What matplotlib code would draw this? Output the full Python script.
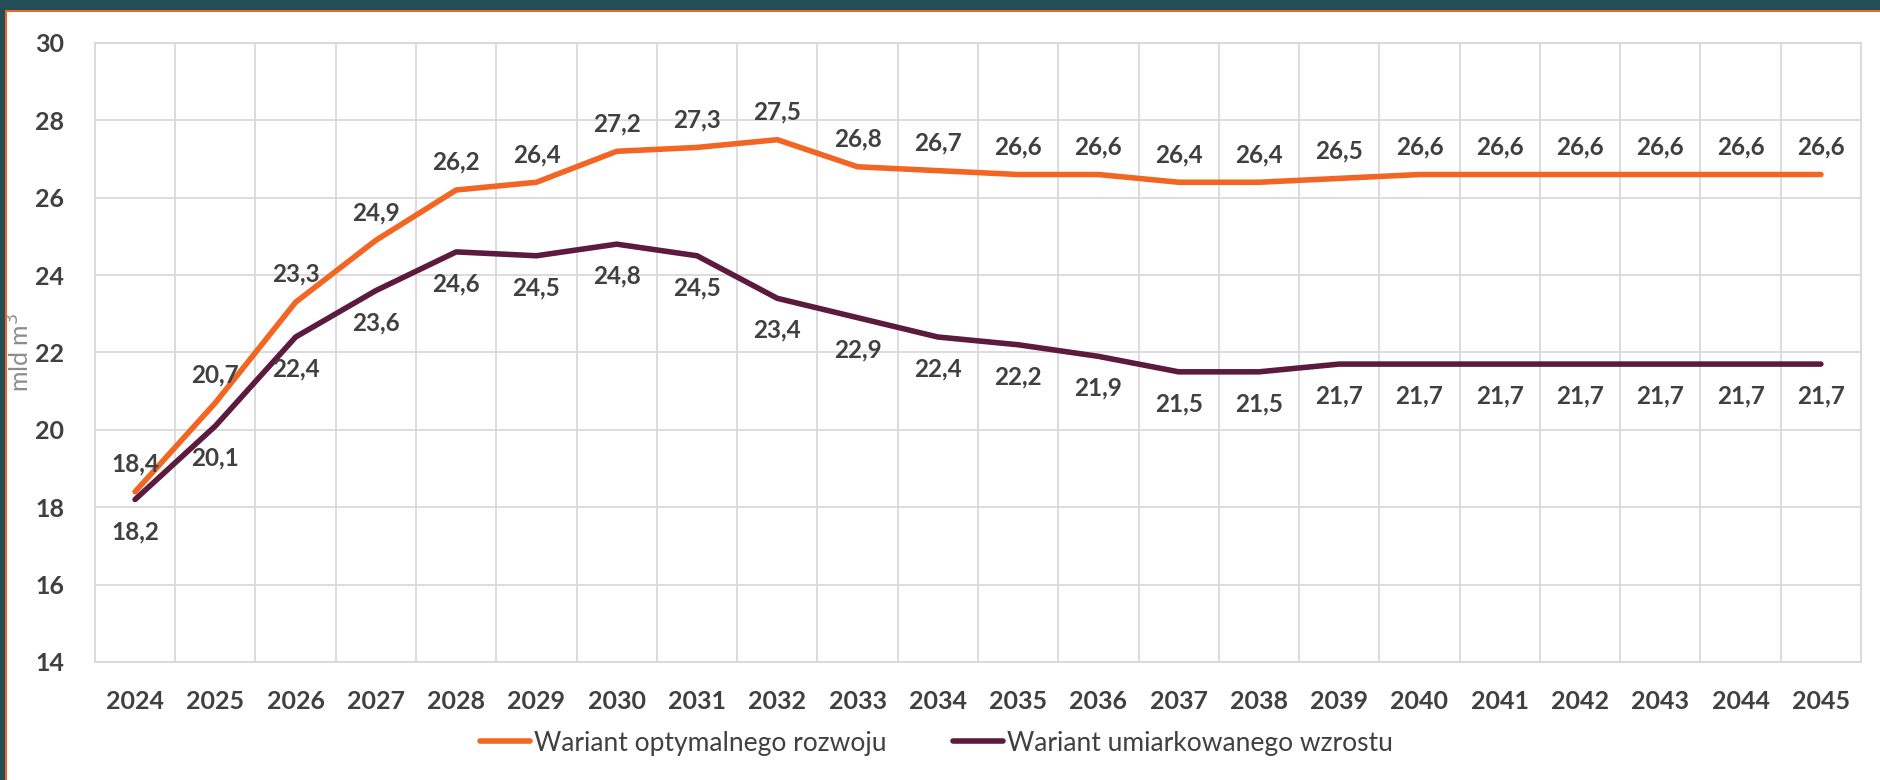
import matplotlib
matplotlib.use("Agg")
import matplotlib.pyplot as plt
from matplotlib.patches import Rectangle

plt.rcParams["font.family"] = ["Lato", "DejaVu Sans"]

years = [str(y) for y in range(2024, 2046)]
optimal = [18.4, 20.7, 23.3, 24.9, 26.2, 26.4, 27.2, 27.3, 27.5, 26.8, 26.7,
           26.6, 26.6, 26.4, 26.4, 26.5, 26.6, 26.6, 26.6, 26.6, 26.6, 26.6]
moderate = [18.2, 20.1, 22.4, 23.6, 24.6, 24.5, 24.8, 24.5, 23.4, 22.9, 22.4,
            22.2, 21.9, 21.5, 21.5, 21.7, 21.7, 21.7, 21.7, 21.7, 21.7, 21.7]
series_names = ["Wariant optymalnego rozwoju", "Wariant umiarkowanego wzrostu"]
y_ticks = [14, 16, 18, 20, 22, 24, 26, 28, 30]

ORANGE = "#F26522"
PLUM = "#5B1A3E"
TEAL = "#234D57"
GRID = "#D9D9D9"
TEXT = "#404040"


def fmt(v):
    return f"{v:.1f}".replace(".", ",")


fig = plt.figure(figsize=(18.8, 7.8), dpi=100)
ax = fig.add_axes([0.0505, 0.1513, 0.9394, 0.7936])

x = list(range(len(years)))
ax.plot(x, optimal, color=ORANGE, lw=4, solid_capstyle="round",
        solid_joinstyle="round", label=series_names[0], zorder=3)
ax.plot(x, moderate, color=PLUM, lw=4, solid_capstyle="round",
        solid_joinstyle="round", label=series_names[1], zorder=3)

# value labels: orange above the line, plum below
for xi, v in zip(x, optimal):
    ax.annotate(fmt(v), (xi, v), xytext=(0, 20), textcoords="offset points",
                ha="center", va="center", fontsize=17.5, fontweight="bold",
                color=TEXT, zorder=4)
for xi, v in zip(x, moderate):
    ax.annotate(fmt(v), (xi, v), xytext=(0, -23), textcoords="offset points",
                ha="center", va="center", fontsize=17.5, fontweight="bold",
                color=TEXT, zorder=4)

ax.set_xlim(-0.5, len(years) - 0.5)
ax.set_ylim(14, 30)
ax.set_yticks(y_ticks)
ax.set_xticks(x)
ax.set_xticklabels(years)
ax.set_xticks([i - 0.5 for i in range(len(years) + 1)], minor=True)
ax.grid(True, axis="y", which="major", color=GRID, lw=1.3, zorder=0)
ax.grid(True, axis="x", which="minor", color=GRID, lw=1.3, zorder=0)
ax.grid(False, axis="x", which="major")
ax.tick_params(axis="both", which="both", length=0)
ax.tick_params(axis="x", pad=20, labelsize=18, labelcolor=TEXT)
ax.tick_params(axis="y", pad=22, labelsize=18, labelcolor=TEXT)
for lbl in ax.get_xticklabels() + ax.get_yticklabels():
    lbl.set_fontweight("bold")
for sp in ax.spines.values():
    sp.set_color(GRID)
    sp.set_linewidth(1.3)

ax.set_ylabel("mld m$^3$", fontsize=18, color="#8C8C8C")
ax.yaxis.set_label_coords(-0.035, 0.5)

fig.legend(loc="center", bbox_to_anchor=(0.498, 1 - 743 / 780), ncol=2,
           frameon=False, fontsize=19, handlelength=1.9, handletextpad=0.15,
           columnspacing=2.5, labelcolor=TEXT)

# frame strips along the top and left edges
fig.add_artist(Rectangle((0, 1 - 10 / 780), 1, 10 / 780,
                         transform=fig.transFigure, color=TEAL, lw=0))
fig.add_artist(Rectangle((0, 1 - 12 / 780), 1, 2 / 780,
                         transform=fig.transFigure, color=ORANGE, lw=0))
fig.add_artist(Rectangle((0, 0), 5 / 1880, 1,
                         transform=fig.transFigure, color=TEAL, lw=0))
fig.add_artist(Rectangle((5 / 1880, 0), 2 / 1880, 1 - 10 / 780,
                         transform=fig.transFigure, color=ORANGE, lw=0))

fig.savefig("out.png", dpi=100)
